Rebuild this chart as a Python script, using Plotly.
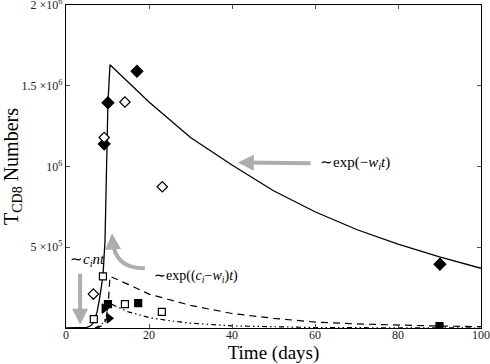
import plotly.graph_objects as go

# ---- data (t in days, counts) ----
solid_t = [0, 3, 4, 5, 5.5, 6, 6.5, 7, 7.5, 8, 8.5, 8.9, 9.4, 10.1, 10.6, 20, 30, 40, 50, 60, 70, 80, 90, 100]
solid_y = [0, 0, 1e3, 4e3, 8e3, 1.5e4, 3e4, 6e4, 1.0e5, 1.7e5, 2.5e5, 3.2e5, 5.4e5, 1.39e6, 1.63e6,
           1.40e6, 1.18e6, 1.01e6, 0.85e6, 0.72e6, 0.61e6, 0.52e6, 0.44e6, 0.37e6]

dashed_t = [7, 8, 9, 9.8, 10.3, 10.6, 15, 20, 30, 40, 50, 60, 70, 80, 90, 100]
dashed_y = [0, 5e3, 2e4, 6e4, 2.0e5, 3.2e5, 2.7e5, 2.1e5, 1.4e5, 9e4, 6e4, 3.7e4, 2.5e4, 1.7e4, 1.2e4, 8e3]

dashdot_t = [7, 8.5, 9.6, 10.3, 15, 20, 25, 30, 40, 50, 60, 80, 100]
dashdot_y = [0, 2e4, 6e4, 1.55e5, 1.0e5, 6.5e4, 4.5e4, 3.0e4, 1.3e4, 6e3, 3e3, 1e3, 0]

fdiam_t = [9.2, 10.1, 17.1, 90.1]
fdiam_y = [1.14e6, 1.395e6, 1.59e6, 0.395e6]
odiam_t = [6.6, 9.2, 14.2, 23.2]
odiam_y = [0.21e6, 1.18e6, 1.40e6, 0.875e6]
osq_t = [6.7, 8.9, 14.2, 23.1]
osq_y = [0.055e6, 0.32e6, 0.148e6, 0.10e6]
fsq_t = [10.1, 17.4, 90]
fsq_y = [0.148e6, 0.154e6, 0.012e6]
tri_t = [9.2, 10.4]
tri_y = [0.12e6, 0.06e6]

x_ticks = [0, 20, 40, 60, 80, 100]
y_ticks = [5e5, 1e6, 1.5e6, 2e6]
y_ticktext = ["5 ×10<sup>5</sup>", "10<sup>6</sup>", "1.5 ×10<sup>6</sup>", "2 ×10<sup>6</sup>"]

FONT = "Liberation Serif"
GRAY = "#adadad"

fig = go.Figure()
fig.add_trace(go.Scatter(x=solid_t, y=solid_y, mode="lines",
                         line=dict(color="black", width=1.3), showlegend=False))
fig.add_trace(go.Scatter(x=dashed_t, y=dashed_y, mode="lines",
                         line=dict(color="black", width=1.2, dash="7px,5px"), showlegend=False))
fig.add_trace(go.Scatter(x=dashdot_t, y=dashdot_y, mode="lines",
                         line=dict(color="black", width=1.2, dash="5px,3px,1.5px,3px,1.5px,3px"),
                         showlegend=False))

mk = dict(line=dict(color="black", width=1.2))
fig.add_trace(go.Scatter(x=fdiam_t, y=fdiam_y, mode="markers", showlegend=False,
                         marker=dict(symbol="diamond", size=9, color="black", **mk)))
fig.add_trace(go.Scatter(x=odiam_t, y=odiam_y, mode="markers", showlegend=False,
                         marker=dict(symbol="diamond", size=8, color="white", **mk)))
fig.add_trace(go.Scatter(x=osq_t, y=osq_y, mode="markers", showlegend=False,
                         marker=dict(symbol="square", size=7, color="white", **mk)))
fig.add_trace(go.Scatter(x=fsq_t, y=fsq_y, mode="markers", showlegend=False,
                         marker=dict(symbol="square", size=7, color="black", **mk)))
fig.add_trace(go.Scatter(x=tri_t, y=tri_y, mode="markers", showlegend=False,
                         marker=dict(symbol="triangle-right", size=8, color="black", **mk)))

# annotation geometry
ann_decay_text = (60.7, 1.02e6)
ann_decay_tip = (41.4, 1.025e6)
ann_decay_tail = (59.3, 1.02e6)
ann_grow_text = (20.7, 0.32e6)
ann_grow_path = "M 19.0,370000 Q 11.8,368000 11.25,540000"
ann_grow_tip = (11.1, 0.585e6)
ann_grow_tail = (11.25, 0.52e6)
ann_lin_text = (0.6, 0.42e6)
ann_lin_tip = (3.4, 0.02e6)
ann_lin_tail = (3.4, 0.345e6)

fig.add_shape(type="path", path=ann_grow_path, xref="x", yref="y",
              line=dict(color=GRAY, width=4))

arrows = [(ann_decay_tip, ann_decay_tail), (ann_grow_tip, ann_grow_tail), (ann_lin_tip, ann_lin_tail)]
for tip, tail in arrows:
    fig.add_annotation(x=tip[0], y=tip[1], ax=tail[0], ay=tail[1], axref="x", ayref="y",
                       xref="x", yref="y", text="", showarrow=True, arrowhead=2,
                       arrowsize=0.8, arrowwidth=4, arrowcolor=GRAY)

fig.add_annotation(x=ann_decay_text[0], y=ann_decay_text[1], xanchor="left", yanchor="middle",
                   text="∼exp(−<i>w<sub>i</sub>t</i>)", showarrow=False,
                   font=dict(family=FONT, size=15, color="black"))
fig.add_annotation(x=ann_grow_text[0], y=ann_grow_text[1], xanchor="left", yanchor="middle",
                   text="∼exp((<i>c<sub>i</sub></i>−<i>w<sub>i</sub></i>)<i>t</i>)", showarrow=False,
                   font=dict(family=FONT, size=14, color="black"))
fig.add_annotation(x=ann_lin_text[0], y=ann_lin_text[1], xanchor="left", yanchor="middle",
                   text="∼<i>c<sub>i</sub>nt</i>", showarrow=False,
                   font=dict(family=FONT, size=15, color="black"))

axis_common = dict(showgrid=False, zeroline=False, showline=True, linecolor="black",
                   linewidth=1.3, mirror="ticks", ticks="inside", ticklen=4,
                   tickcolor="#555", tickfont=dict(family=FONT, size=12, color="#222"),
                   ticklabeloverflow="allow")

fig.update_xaxes(range=[0, 100], tickvals=x_ticks, ticklabelstandoff=-5,
                 title=dict(text="Time (days)", font=dict(family=FONT, size=19, color="black"),
                            standoff=2), **axis_common)
fig.update_yaxes(range=[0, 2.0005e6], tickvals=y_ticks, ticktext=y_ticktext,
                 title=dict(text="T<sub>CD8</sub> Numbers", font=dict(family=FONT, size=20, color="black"),
                            standoff=2), **axis_common)

fig.update_layout(width=490, height=364, margin=dict(l=66, r=9, t=5, b=36, autoexpand=False),
                  plot_bgcolor="white", paper_bgcolor="white", showlegend=False)

fig.write_html("out.html", config={"displayModeBar": False},
               post_script="document.body.style.margin='0';")
